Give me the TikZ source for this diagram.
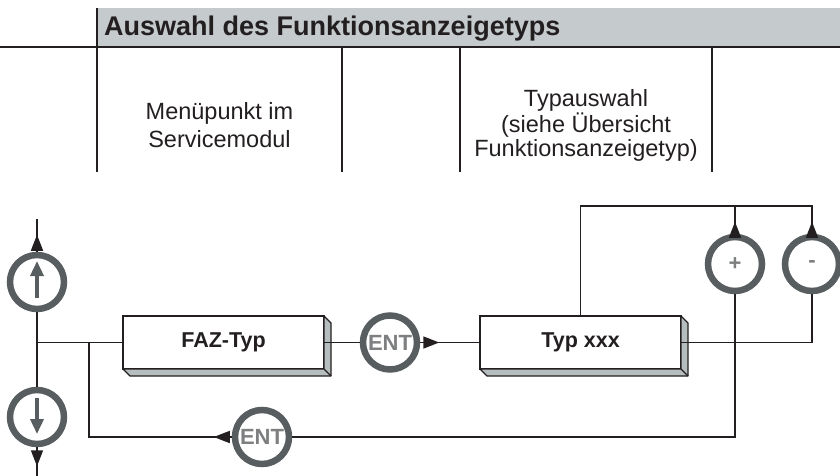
\documentclass[tikz,border=0pt]{standalone}
\usepackage{fontspec}
\setmainfont{Liberation Sans}
\usetikzlibrary{arrows.meta,calc}

\definecolor{bandgray}{RGB}{197,202,204}
\definecolor{facegray}{RGB}{182,189,191}
\definecolor{ringgray}{RGB}{88,94,96}
\definecolor{keygray}{RGB}{125,127,128}
\definecolor{inkblack}{RGB}{35,31,32}

\tikzset{
  line/.style={draw=inkblack, line width=1.6pt},
  flow/.style={line, -{Triangle[length=16pt,width=12pt]}},
  key/.style={circle, draw=ringgray, fill=white, line width=6.5pt,
              minimum size=54pt, inner sep=0pt, text=keygray,
              font=\bfseries\fontsize{22}{22}\selectfont},
  keyarrow/.style={draw=ringgray, line width=3.5pt,
                   -{Triangle[length=15pt,width=13pt]}},
  screen/.style={draw=inkblack, line width=1.4pt, fill=white, outer sep=0pt,
                 minimum width=201pt, minimum height=53pt, inner sep=0pt,
                 text=inkblack, font=\bfseries\fontsize{21.5}{21.5}\selectfont},
  label/.style={align=center, text=inkblack}
}

\newcommand{\screendepth}[1]{%
  \filldraw[fill=facegray, draw=inkblack, line width=1.4pt, line join=round]
    (#1.north east) -- ++(7,7) -- ($(#1.south east)+(7,7)$)
    -- ($(#1.south west)+(7,7)$) -- (#1.south west) -- (#1.south east) -- cycle;
  \draw[inkblack, line width=1.4pt] (#1.south east) -- ++(7,7);}

\begin{document}
\begin{tikzpicture}[x=1pt, y=-1pt]
  \useasboundingbox (0,0) rectangle (840,476);

  \fill[bandgray] (97,8) rectangle (840,47);
  \draw[line] (0,47) -- (840,47);
  \draw[line] (97,8) -- (97,172);
  \foreach \x in {342,460,712}
    \draw[line] (\x,47) -- (\x,172);
  \node[anchor=base west, text=inkblack, inner sep=0pt,
        font=\bfseries\fontsize{27}{27}\selectfont] (title) at (104,36)
        {Auswahl des Funktionsanzeigetyps};
  \node[label, anchor=base, inner sep=0pt,
        font=\fontsize{23.5}{27.5}\selectfont] (menu) at (219.5,147)
        {Menüpunkt im\\Servicemodul};
  \node[label, anchor=base, inner sep=0pt,
        font=\fontsize{23.5}{24}\selectfont] (choice) at (586,156)
        {Typauswahl\\(siehe Übersicht\\Funktionsanzeigetyp)};

  \node[key] (up) at (37,282) {};
  \node[key] (down) at (37,417) {};
  \node[screen] (faz) at (223.5,342.5) {FAZ-Typ};
  \screendepth{faz}
  \node[key] (ent) at (390,342.5) {ENT};
  \node[screen] (typ) at (580.5,342.5) {Typ xxx};
  \screendepth{typ}
  \node[key] (plus) at (735,264) {+};
  \node[key] (minus) at (812,264) {-};
  \node[key] (back) at (262,437) {ENT};

  \draw[keyarrow] ($(up)+(0,16)$) -- ($(up)+(0,-21)$);
  \draw[keyarrow] ($(down)+(0,-19)$) -- ($(down)+(0,17)$);

  \coordinate (left) at (37,342.5);
  \coordinate (split) at (89,342.5);
  \coordinate (top) at (580.5,206);
  \coordinate (upend) at (37,219);
  \coordinate (downend) at (37,476);

  \draw[line] (up) -- (down);
  \draw[line] (left) -- (faz.west);
  \draw[flow] (up.north) -- ++(0,-17);
  \draw[line] (up.north) -- (upend);
  \draw[flow] (down.south) -- ++(0,19);
  \draw[line] (down.south) -- (downend);

  \draw[line] (faz.east) -- (ent.west);
  \draw[flow] (ent.east) -- ++(19,0);
  \draw[line] (ent.east) -- (typ.west);

  \draw[line] (typ.north) -- (top) -| (minus.north);
  \draw[line] (plus.north) -- (plus |- top);
  \draw[flow] (plus.north) -- ++(0,-12);
  \draw[flow] (minus.north) -- ++(0,-12);
  \draw[line] (typ.east) -| (minus.south);

  \draw[line] (plus.south) |- (back.east);
  \draw[flow] (back.west) -- ++(-18,0);
  \draw[line] (back.west) -| (split);
\end{tikzpicture}
\end{document}
